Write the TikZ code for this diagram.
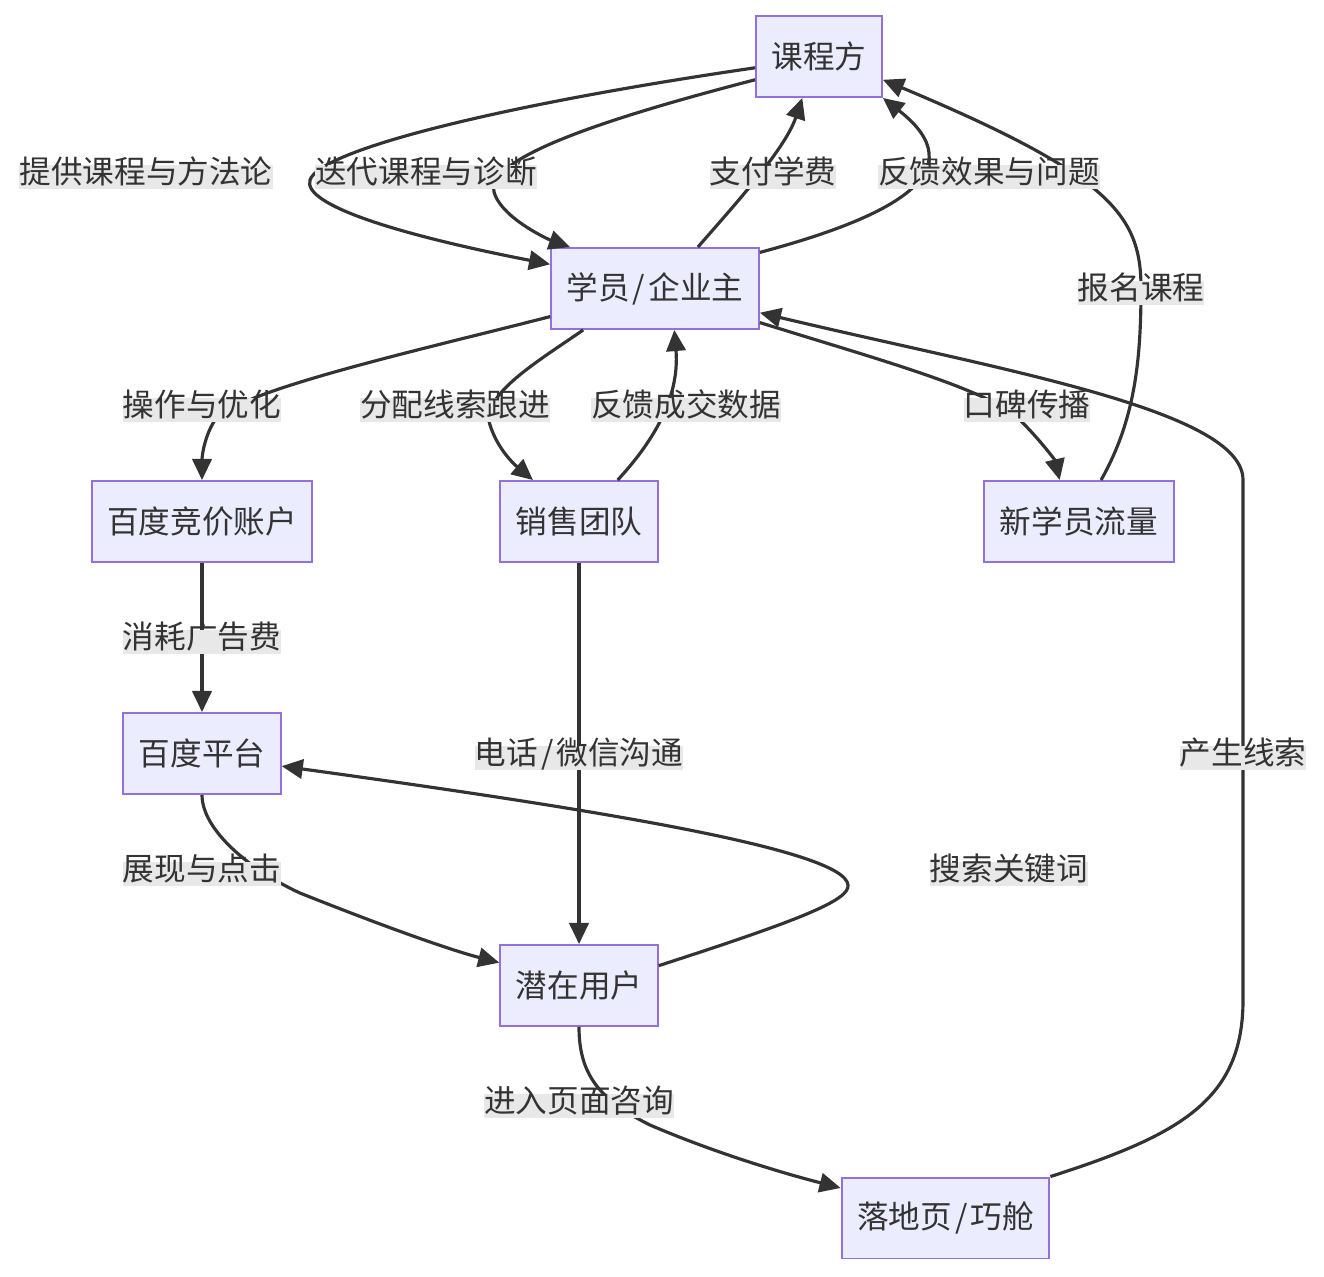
\documentclass[tikz,border=0pt]{standalone}
\usepackage{fontspec}
\setmainfont{Noto Sans CJK SC}
\usetikzlibrary{arrows.meta}
\definecolor{nodefill}{HTML}{ECECFF}
\definecolor{nodeline}{HTML}{9370DB}
\definecolor{ink}{HTML}{333333}
\definecolor{lblbg}{HTML}{E8E8E8}
\newcommand{\sep}{\hspace{0.1em}/\hspace{0.1em}}
\begin{document}
\begin{tikzpicture}[x=0.02cm, y=-0.02cm, font=\fontsize{18}{22}\selectfont, text=ink,
			box/.style={rectangle, draw=nodeline, fill=nodefill, line width=1.1pt, minimum height=1.62cm, inner xsep=0.31cm},
			lbl/.style={fill=lblbg, inner xsep=0pt, inner ysep=2pt, text height=0.85em, text depth=0.15em, yshift=-0.1cm},
			ln/.style={draw=ink, line width=1.8pt, -{Triangle[length=12pt, width=11pt]}}]
			\useasboundingbox (0,0) rectangle (1324,1276);
			% 节点
			\foreach \n/\x/\y/\t in {kc/819/56.5/课程方, xy/655/288.5/{学员\sep 企业主},
				zh/202/521.5/百度竞价账户, xs/579/521.5/销售团队, xxy/1079/521.5/新学员流量,
				pt/202/753.5/百度平台, qz/579/985.5/潜在用户, ldy/945.5/1218/{落地页\sep 巧舱}}{
				\node[box] (\n) at (\x,\y) {\t};
			}
			% 连线
			\draw[ln] (kc.190) .. controls (500,105) and (320,150) .. (310,180) .. controls (302,205) and (400,235) .. (xy.167);
			\draw[ln] (kc.200) .. controls (600,120) and (480,160) .. (495,195) .. controls (505,220) and (550,240) .. (xy.154);
			\draw[ln] (xy.44) .. controls (730,210) and (785,150) .. (kc.248);
			\draw[ln] (xy.19) .. controls (900,215) and (975,170) .. (kc.south east);
			\draw[ln] (xxy.62.6) .. controls (1135,420) and (1141,360) .. (1141,288) .. controls (1141,215) and (1110,175) .. (kc.340);
			\draw[ln] (xy.195) .. controls (420,350) and (240,390) .. (215,420) .. controls (205,435) and (202,455) .. (zh.north);
			\draw[ln] (xy.210) .. controls (540,360) and (480,395) .. (490,425) .. controls (498,450) and (515,465) .. (xs.138.6);
			\draw[ln] (xs.47) .. controls (650,445) and (680,400) .. (xy.295);
			\draw[ln] (xy.342) .. controls (880,360) and (990,390) .. (1020,420) .. controls (1040,440) and (1055,460) .. (xxy.115);
			\draw[ln] (zh) -- (pt);
			\draw[ln] (xs) -- (qz);
			\draw[ln] (ldy.north east) .. controls (1180,1135) and (1243,1100) .. (1243,1000) -- (1243,480) .. controls (1243,410) and (1000,370) .. (xy.347);
			\draw[ln] (pt.south) .. controls (202,830) and (250,870) .. (300,893) .. controls (380,925) and (450,950) .. (qz.164);
			\draw[ln] (qz.14.6) .. controls (800,920) and (850,900) .. (848,885) .. controls (845,850) and (600,810) .. (pt.351);
			\draw[ln] (qz.south) .. controls (579,1075) and (600,1100) .. (650,1125) .. controls (720,1155) and (790,1175) .. (ldy.164);
			% 连线标签
			\foreach \x/\y/\t [count=\i] in {146/172/提供课程与方法论, 426/172/迭代课程与诊断, 773/172/支付学费,
				989/172/反馈效果与问题, 1141/288/报名课程, 202/405/操作与优化, 455/405/分配线索跟进,
				686/405/反馈成交数据, 1027/405/口碑传播, 202/637/消耗广告费, 579/753/{电话\sep 微信沟通},
				1243/753/产生线索, 202/869/展现与点击, 1009/869/搜索关键词, 579/1101/进入页面咨询}{
				\node[lbl] (L\i) at (\x,\y) {\t};
			}
		\end{tikzpicture}
\end{document}
